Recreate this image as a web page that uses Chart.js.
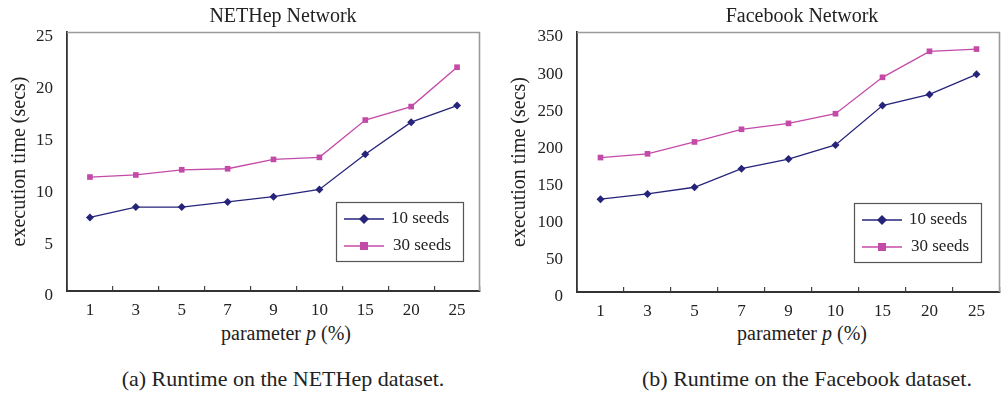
<!DOCTYPE html>
<html><head><meta charset="utf-8">
<script src="https://cdn.jsdelivr.net/npm/chart.js@4"></script>
<style>
html,body{margin:0;padding:0;background:#fff;}
body{width:1004px;height:394px;position:relative;overflow:hidden;font-family:"Liberation Serif","DejaVu Serif",serif;color:#222;}
.cv{position:absolute;top:0;}
.t{position:absolute;text-align:center;white-space:nowrap;color:#222;}
</style></head>
<body>
<div class="cv" style="left:0;width:495px;height:320px;"><canvas id="c1"></canvas></div>
<div class="cv" style="left:500px;width:504px;height:320px;"><canvas id="c2"></canvas></div>
<div class="t" style="left:183px;width:200px;top:4px;font-size:20px;">NETHep Network</div>
<div class="t" style="left:702px;width:200px;top:4px;font-size:20px;">Facebook Network</div>
<div class="t" style="left:186px;width:200px;top:322px;font-size:20px;">parameter <i>p</i> (%)</div>
<div class="t" style="left:702px;width:200px;top:322px;font-size:20px;">parameter <i>p</i> (%)</div>
<div class="t" style="left:83px;width:400px;top:366px;font-size:22px;">(a) Runtime on the NETHep dataset.</div>
<div class="t" style="left:607px;width:400px;top:366px;font-size:22px;">(b) Runtime on the Facebook dataset.</div>
<script>
const categories = ["1","3","5","7","9","10","15","20","25"];
const seriesLabels = ["10 seeds","30 seeds"];
const nethep10 = [7.1, 8.1, 8.1, 8.6, 9.1, 9.8, 13.2, 16.3, 17.9];
const nethep30 = [11.0, 11.2, 11.7, 11.8, 12.7, 12.9, 16.5, 17.8, 21.6];
const facebook10 = [125, 132, 141, 166, 179, 198, 251, 266, 293];
const facebook30 = [181, 186, 202, 219, 227, 240, 289, 324, 327];
const yTicksNethep = {max: 25, step: 5};
const yTicksFacebook = {max: 350, step: 50};

const NAVY = "#25247a";
const MAGENTA = "#c44aa8";
const FONT = "Liberation Serif";

const frame = {
  id: "frame",
  beforeDatasetsDraw(chart) {
    const a = chart.chartArea, ctx = chart.ctx;
    ctx.save();
    ctx.strokeStyle = "#9a9a9a"; ctx.lineWidth = 1.6;
    ctx.beginPath();
    ctx.moveTo(a.left, a.top + 0.5); ctx.lineTo(a.right - 0.5, a.top + 0.5); ctx.lineTo(a.right - 0.5, a.bottom);
    ctx.stroke();
    ctx.restore();
  },
  afterDraw(chart, args, opts) {
    const a = chart.chartArea, ctx = chart.ctx;
    const ds = chart.data.datasets;
    const w = 127, h = 59;
    const x0 = a.right - opts.right - w, y0 = a.top + opts.top;
    ctx.save();
    ctx.fillStyle = "#fff";
    ctx.fillRect(x0, y0, w, h);
    ctx.strokeStyle = "#555"; ctx.lineWidth = 1.2;
    ctx.strokeRect(x0 + 0.5, y0 + 0.5, w, h);
    ctx.font = "17px '" + FONT + "'";
    ctx.textBaseline = "middle";
    ds.forEach((d, i) => {
      const cy = y0 + 17 + i * 27;
      ctx.strokeStyle = d.borderColor; ctx.lineWidth = 1.3;
      ctx.beginPath(); ctx.moveTo(x0 + 8, cy); ctx.lineTo(x0 + 48, cy); ctx.stroke();
      ctx.fillStyle = d.borderColor;
      const cx = x0 + 28;
      if (d.pointStyle === "rectRot") {
        ctx.beginPath(); ctx.moveTo(cx, cy - 5); ctx.lineTo(cx + 5, cy); ctx.lineTo(cx, cy + 5); ctx.lineTo(cx - 5, cy); ctx.closePath(); ctx.fill();
      } else {
        ctx.fillRect(cx - 4, cy - 4, 8, 8);
      }
      ctx.fillStyle = "#222";
      ctx.fillText(d.label, x0 + 55 + (i === 1 ? 2 : 0), cy);
    });
    ctx.restore();
  }
};

function makeChart(id, d10, d30, yt, yWidth, padRight, xHeight, legendPos) {
  return new Chart(document.getElementById(id), {
    type: "line",
    data: {
      labels: categories,
      datasets: [
        {label: seriesLabels[0], data: d10, borderColor: NAVY, backgroundColor: NAVY, borderWidth: 1.3,
         pointStyle: "rectRot", pointRadius: 4, pointBorderWidth: 0, tension: 0},
        {label: seriesLabels[1], data: d30, borderColor: MAGENTA, backgroundColor: MAGENTA, borderWidth: 1.3,
         pointStyle: "rect", pointRadius: 4, pointBorderWidth: 0, tension: 0}
      ]
    },
    options: {
      responsive: true, maintainAspectRatio: false, animation: false,
      layout: {padding: {top: 32, right: padRight, left: 0, bottom: 0}},
      plugins: {legend: {display: false}, tooltip: {enabled: false}, title: {display: false},
        frame: legendPos},
      scales: {
        x: {
          offset: true,
          afterFit(s) { s.height = xHeight; },
          grid: {display: true, drawOnChartArea: false, drawTicks: true, tickLength: -5, color: "#444", lineWidth: 1.2, offset: true},
          border: {display: true, color: "#333", width: 2},
          ticks: {color: "#222", font: {family: FONT, size: 17}, padding: 14, maxRotation: 0, autoSkip: false}
        },
        y: {
          min: 0, max: yt.max,
          afterFit(s) { s.width = yWidth; },
          grid: {display: false, drawTicks: false},
          border: {display: true, color: "#333", width: 1.8},
          ticks: {stepSize: yt.step, color: "#222", font: {family: FONT, size: 17}, padding: 14, labelOffset: 5},
          title: {display: true, text: "execution time (secs)", color: "#222", font: {family: FONT, size: 20}, padding: {top: 8, bottom: 4}}
        }
      }
    },
    plugins: [frame]
  });
}

makeChart("c1", nethep10, nethep30, yTicksNethep, 67, 15, 29, {right: 17, top: 170});
makeChart("c2", facebook10, facebook30, yTicksFacebook, 77, 2, 28, {right: 19, top: 171});
</script>
</body></html>
